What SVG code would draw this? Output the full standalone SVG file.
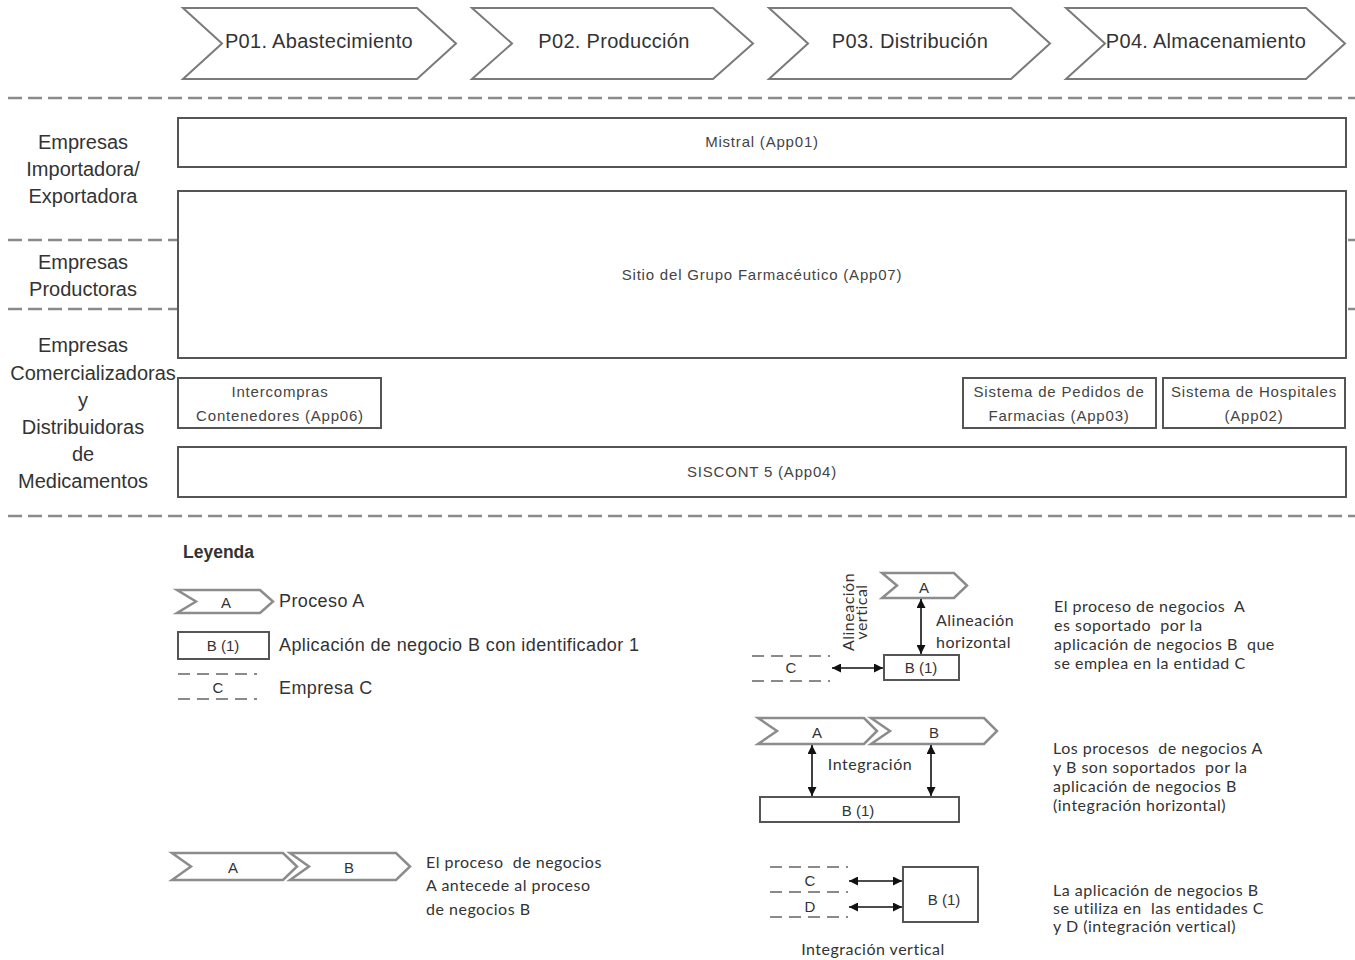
<svg xmlns="http://www.w3.org/2000/svg" width="1355" height="960" viewBox="0 0 1355 960">
<defs>
<marker id="ah" viewBox="0 0 10 10" refX="10" refY="5" markerWidth="9" markerHeight="9" markerUnits="userSpaceOnUse" orient="auto-start-reverse">
<path d="M0,0 L10,5 L0,10 z" fill="#111"/>
</marker>
<style>
.bg{fill:#fff}
.sep{stroke:#8a8a8a;stroke-width:2.5;stroke-dasharray:14 6;fill:none}
.chev{fill:#fff;stroke:#7a7a7a;stroke-width:2}
.lchev{fill:#fff;stroke:#8c8c8c;stroke-width:2.5}
.box{fill:#fff;stroke:#555;stroke-width:2}
.ent{stroke:#8a8a8a;stroke-width:2;stroke-dasharray:12 7;fill:none}
.arr{stroke:#111;stroke-width:1.6;fill:none;marker-start:url(#ah);marker-end:url(#ah)}
.pt{font-family:"Liberation Sans",Arial,sans-serif;font-size:20px;fill:#333;text-anchor:middle;dominant-baseline:central;letter-spacing:0.3px}
.lab{font-family:"Liberation Sans",Arial,sans-serif;font-size:20px;fill:#333;text-anchor:middle;dominant-baseline:central}
.bt{font-family:"Liberation Sans",Arial,sans-serif;font-size:15px;fill:#444;text-anchor:middle;dominant-baseline:central;letter-spacing:0.8px}
.lg{font-family:"Liberation Sans",Arial,sans-serif;font-size:18px;fill:#333;dominant-baseline:central;letter-spacing:0.4px}
.lgc{font-family:"Liberation Sans",Arial,sans-serif;font-size:15px;fill:#333;text-anchor:middle;dominant-baseline:central}
.ct{font-family:Lato,"Open Sans",sans-serif;font-size:16px;fill:#333;dominant-baseline:central;letter-spacing:0.5px}
.ctm{font-family:Lato,"Open Sans",sans-serif;font-size:16px;fill:#333;text-anchor:middle;dominant-baseline:central;letter-spacing:0.5px}
</style>
</defs>
<rect class="bg" x="0" y="0" width="1355" height="960"/>

<g id="separators">
<line class="sep" x1="8" y1="98" x2="1355" y2="98"/>
<line class="sep" x1="8" y1="240" x2="1355" y2="240"/>
<line class="sep" x1="8" y1="309" x2="1355" y2="309"/>
<line class="sep" x1="8" y1="516" x2="1355" y2="516"/>
</g>

<g id="P01"><path class="chev" d="M183,8 L417,8 L456,43.5 L417,79 L183,79 L222,43.5 Z"/><text class="pt" x="319" y="41">P01. Abastecimiento</text></g>
<g id="P02"><path class="chev" d="M472,8 L713,8 L753,43.5 L713,79 L472,79 L512,43.5 Z"/><text class="pt" x="614" y="41">P02. Producción</text></g>
<g id="P03"><path class="chev" d="M769,8 L1011,8 L1050,43.5 L1011,79 L769,79 L808,43.5 Z"/><text class="pt" x="910" y="41">P03. Distribución</text></g>
<g id="P04"><path class="chev" d="M1066,8 L1306,8 L1345,43.5 L1306,79 L1066,79 L1105,43.5 Z"/><text class="pt" x="1206" y="41">P04. Almacenamiento</text></g>

<g id="lane-importadora">
<text class="lab" x="83" y="142">Empresas</text>
<text class="lab" x="83" y="169">Importadora/</text>
<text class="lab" x="83" y="196">Exportadora</text>
</g>
<g id="lane-productoras">
<text class="lab" x="83" y="262">Empresas</text>
<text class="lab" x="83" y="289">Productoras</text>
</g>
<g id="lane-comercializadoras">
<text class="lab" x="83" y="345">Empresas</text>
<text class="lab" x="93" y="373">Comercializadoras</text>
<text class="lab" x="83" y="400">y</text>
<text class="lab" x="83" y="427">Distribuidoras</text>
<text class="lab" x="83" y="454">de</text>
<text class="lab" x="83" y="481">Medicamentos</text>
</g>

<g id="App01"><rect class="box" x="178" y="118" width="1168" height="49"/><text class="bt" x="762" y="141">Mistral (App01)</text></g>
<g id="App07"><rect class="box" x="178" y="191" width="1168" height="167"/><text class="bt" x="762" y="274">Sitio del Grupo Farmacéutico (App07)</text></g>
<g id="App06"><rect class="box" x="178" y="378" width="203" height="50"/><text class="bt" x="280" y="391">Intercompras</text><text class="bt" x="280" y="415">Contenedores (App06)</text></g>
<g id="App03"><rect class="box" x="963" y="378" width="193" height="50"/><text class="bt" x="1059" y="391">Sistema de Pedidos de</text><text class="bt" x="1059" y="415">Farmacias (App03)</text></g>
<g id="App02"><rect class="box" x="1163" y="378" width="182" height="50"/><text class="bt" x="1254" y="391">Sistema de Hospitales</text><text class="bt" x="1254" y="415">(App02)</text></g>
<g id="App04"><rect class="box" x="178" y="447" width="1168" height="50"/><text class="bt" x="762" y="471">SISCONT 5 (App04)</text></g>

<g id="legend">
<text x="183" y="552" style="font-family:'Liberation Sans',Arial,sans-serif;font-size:17.5px;font-weight:bold;fill:#333;dominant-baseline:central">Leyenda</text>
<g id="leg-proceso"><path class="lchev" d="M177,590 L260,590 L273,601.5 L260,613 L177,613 L196,601.5 Z"/><text class="lgc" x="226" y="602">A</text><text class="lg" x="279" y="601">Proceso A</text></g>
<g id="leg-app"><rect class="box" x="178" y="632" width="91" height="27"/><text class="lgc" x="223" y="645">B (1)</text><text class="lg" x="279" y="645">Aplicación de negocio B con identificador 1</text></g>
<g id="leg-empresa"><line class="ent" x1="178" y1="674" x2="257" y2="674"/><line class="ent" x1="178" y1="699" x2="257" y2="699"/><text class="lgc" x="218" y="687">C</text><text class="lg" x="279" y="688">Empresa C</text></g>
</g>

<g id="leg-antecede">
<path class="lchev" d="M172,853 L283,853 L297,866.5 L283,880 L172,880 L191,866.5 Z"/>
<path class="lchev" d="M290,853 L396,853 L410,866.5 L396,880 L290,880 L309,866.5 Z"/>
<text class="lgc" x="233" y="867">A</text><text class="lgc" x="349" y="867">B</text>
<text class="ct" x="426" y="861" xml:space="preserve">El proceso  de negocios</text>
<text class="ct" x="426" y="884">A antecede al proceso</text>
<text class="ct" x="426" y="908">de negocios B</text>
</g>

<g id="leg-alineacion">
<path class="lchev" d="M882,573 L954,573 L967,585.5 L954,598 L882,598 L897,585.5 Z"/>
<text class="lgc" x="924" y="587">A</text>
<rect class="box" x="884" y="655" width="75" height="25"/>
<text class="lgc" x="921" y="667">B (1)</text>
<line class="ent" x1="752" y1="656" x2="830" y2="656"/>
<line class="ent" x1="752" y1="681" x2="830" y2="681"/>
<text class="lgc" x="791" y="667">C</text>
<text class="ct" x="936" y="619">Alineación</text>
<text class="ct" x="936" y="641">horizontal</text>
<text class="ctm" transform="translate(847,612) rotate(-90)" style="font-size:16px">Alineación</text>
<text class="ctm" transform="translate(860,612) rotate(-90)" style="font-size:16px">vertical</text>
<text class="ct" x="1054" y="605" xml:space="preserve">El proceso de negocios  A</text>
<text class="ct" x="1054" y="624" xml:space="preserve">es soportado  por la</text>
<text class="ct" x="1054" y="643" xml:space="preserve">aplicación de negocios B  que</text>
<text class="ct" x="1054" y="662">se emplea en la entidad C</text>
</g>

<g id="leg-integracion">
<path class="lchev" d="M758,718 L864,718 L877,731 L864,744 L758,744 L777,731 Z"/>
<path class="lchev" d="M871,718 L984,718 L997,731 L984,744 L871,744 L890,731 Z"/>
<text class="lgc" x="817" y="732">A</text><text class="lgc" x="934" y="732">B</text>
<rect class="box" x="760" y="797" width="199" height="25"/>
<text class="lgc" x="858" y="810">B (1)</text>
<text class="ctm" x="870" y="763">Integración</text>
<text class="ct" x="1053" y="747" xml:space="preserve">Los procesos  de negocios A</text>
<text class="ct" x="1053" y="766" xml:space="preserve">y B son soportados  por la</text>
<text class="ct" x="1053" y="785">aplicación de negocios B</text>
<text class="ct" x="1053" y="804">(integración horizontal)</text>
</g>

<g id="leg-vertical">
<line class="ent" x1="770" y1="867" x2="848" y2="867"/>
<line class="ent" x1="770" y1="892" x2="848" y2="892"/>
<line class="ent" x1="770" y1="917" x2="848" y2="917"/>
<text class="lgc" x="810" y="880">C</text>
<text class="lgc" x="810" y="906">D</text>
<rect class="box" x="903" y="867" width="75" height="55"/>
<text class="lgc" x="944" y="899">B (1)</text>
<text class="ctm" x="873" y="948">Integración vertical</text>
<text class="ct" x="1053" y="889">La aplicación de negocios B</text>
<text class="ct" x="1053" y="907" xml:space="preserve">se utiliza en  las entidades C</text>
<text class="ct" x="1053" y="925">y D (integración vertical)</text>
</g>

<g id="connectors">
<line class="arr" x1="921" y1="599" x2="921" y2="654"/>
<line class="arr" x1="832" y1="668" x2="883" y2="668"/>
<line class="arr" x1="812" y1="745" x2="812" y2="796"/>
<line class="arr" x1="931" y1="745" x2="931" y2="796"/>
<line class="arr" x1="849" y1="881" x2="902" y2="881"/>
<line class="arr" x1="849" y1="907" x2="902" y2="907"/>
</g>
</svg>
